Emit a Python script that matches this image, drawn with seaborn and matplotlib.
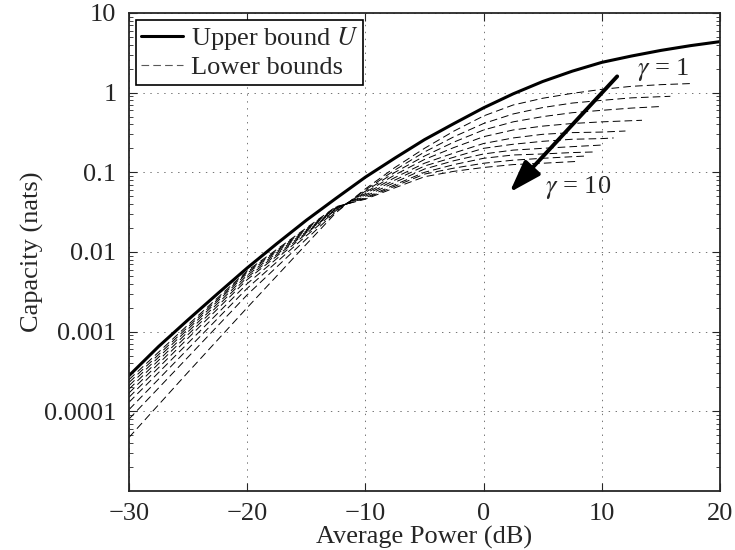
import matplotlib
matplotlib.use("Agg")
import matplotlib.pyplot as plt
import seaborn as sns
import pandas as pd
from matplotlib.ticker import FixedLocator, FixedFormatter, LogLocator, NullFormatter
from matplotlib.lines import Line2D

# upper bound U
power_db = [-30, -27.5, -25, -22.5, -20, -17.5, -15, -12.5, -10, -7.5, -5, -2.5,
            0, 2.5, 5, 7.5, 10, 12.5, 15, 17.5, 20]
upper = [2.8e-4, 6.5e-4, 1.41e-3, 3.0e-3, 6.3e-3, 0.0127, 0.025, 0.047, 0.087, 0.151, 0.257, 0.41,
         0.645, 0.966, 1.38, 1.86, 2.4, 2.88, 3.39, 3.89, 4.37]

# lower bounds for gamma = 1..10 (shared grid, then each curve's own tail)
lb_grid = [-30, -25, -20, -15, -12.5, -10, -7.5, -5, -2.5, 0, 2.5, 5, 7.5]
lb_vals = {
    1: [4.7e-5, 3.1e-4, 2.0e-3, 0.0125, 0.031, 0.062, 0.115, 0.20, 0.33, 0.51, 0.70, 0.85, 0.98],
    2: [8.0e-5, 4.8e-4, 2.9e-3, 0.0145, 0.032, 0.060, 0.107, 0.18, 0.28, 0.41, 0.54, 0.65, 0.74],
    3: [1.05e-4, 6.1e-4, 3.5e-3, 0.016, 0.033, 0.058, 0.100, 0.16, 0.24, 0.34, 0.43, 0.50, 0.56],
    4: [1.3e-4, 7.2e-4, 4.0e-3, 0.017, 0.034, 0.056, 0.093, 0.145, 0.205, 0.28, 0.34, 0.38, 0.41],
    5: [1.5e-4, 8.3e-4, 4.5e-3, 0.0175, 0.0345, 0.054, 0.086, 0.13, 0.175, 0.23, 0.27, 0.30, 0.315],
    6: [1.7e-4, 9.2e-4, 4.8e-3, 0.018, 0.035, 0.052, 0.080, 0.12, 0.155, 0.20, 0.225, 0.245, 0.26],
    7: [1.9e-4, 1.0e-3, 5.1e-3, 0.0185, 0.0355, 0.050, 0.075, 0.11, 0.14, 0.17, 0.19, 0.20, 0.21],
    8: [2.1e-4, 1.08e-3, 5.4e-3, 0.019, 0.036, 0.048, 0.070, 0.10, 0.125, 0.15, 0.165, 0.17, 0.177],
    9: [2.3e-4, 1.15e-3, 5.6e-3, 0.0195, 0.0365, 0.047, 0.067, 0.095, 0.113, 0.13, 0.142, 0.15, 0.157],
    10: [2.5e-4, 1.22e-3, 5.8e-3, 0.020, 0.037, 0.046, 0.064, 0.088, 0.103, 0.115, 0.125, 0.13, 0.136],
}
lb_tail_db = {1: [10, 12.5, 15, 17.5], 2: [10, 12.5, 15.8], 3: [10, 12.5, 15], 4: [10, 13.4],
              5: [10, 12], 6: [10, 11], 7: [10], 8: [9.3], 9: [8.6], 10: [7.9]}
lb_tail = {1: [1.1, 1.2, 1.26, 1.3], 2: [0.8, 0.86, 0.9], 3: [0.6, 0.64, 0.67], 4: [0.43, 0.45],
           5: [0.32, 0.33], 6: [0.265, 0.27], 7: [0.22], 8: [0.18], 9: [0.16], 10: [0.137]}

ytick_vals = [1e-4, 1e-3, 1e-2, 1e-1, 1, 10]
ytick_text = ["0.0001", "0.001", "0.01", "0.1", "1", "10"]

sns.set_style("ticks")
plt.rcParams["font.family"] = ["Liberation Serif", "DejaVu Serif"]
plt.rcParams["mathtext.fontset"] = "stix"
plt.rcParams["lines.scale_dashes"] = False
fs = 19

fig = plt.figure(figsize=(7.35, 5.5), dpi=100)
ax = fig.add_axes([0.1755, 0.1073, 0.8041, 0.8691])

rows = []
for g in lb_vals:
    xs = lb_grid + lb_tail_db[g]
    ys = lb_vals[g] + lb_tail[g]
    for x, y in zip(xs, ys):
        rows.append({"p": x, "c": y, "g": g})
lower = pd.DataFrame(rows)

sns.lineplot(data=lower, x="p", y="c", units="g", estimator=None, sort=False,
             color="black", lw=0.7, dashes=False, linestyle=(0, (5.5, 3)), ax=ax, legend=False)
sns.lineplot(x=power_db, y=upper, color="black", lw=2.2, ax=ax, legend=False)

ax.set_yscale("log")
ax.set_xlim(-30, 20)
ax.set_ylim(1e-5, 10)
ax.set_xticks([-30, -20, -10, 0, 10, 20])
ax.set_xticklabels(["\u221230", "\u221220", "\u221210", "0", "10", "20"])
ax.yaxis.set_major_locator(FixedLocator(ytick_vals))
ax.yaxis.set_major_formatter(FixedFormatter(ytick_text))
ax.yaxis.set_minor_locator(LogLocator(base=10, subs=range(2, 10), numticks=20))
ax.yaxis.set_minor_formatter(NullFormatter())
ax.tick_params(which="both", direction="in", top=True, right=True, labelsize=fs)
ax.tick_params(which="major", length=6, width=0.8, pad=9)
ax.tick_params(which="minor", length=3, width=0.6)
ax.grid(True, which="major", linestyle=(0, (1, 4)), color="0.45", lw=0.7)
for s in ax.spines.values():
    s.set_linewidth(1.3)

ax.set_xlabel("Average Power (dB)", fontsize=fs, labelpad=0)
ax.set_ylabel("Capacity (nats)", fontsize=fs, labelpad=0)

ax.annotate("", xy=(2.2, 0.056), xytext=(11.3, 1.6),
            arrowprops=dict(arrowstyle="-|>,head_length=0.75,head_width=0.25",
                            lw=2.8, color="black", mutation_scale=26, shrinkA=0, shrinkB=0))
ax.text(13.0, 1.95, r"$\gamma$ = 1", fontsize=fs, va="center", ha="left")
ax.text(5.2, 0.065, r"$\gamma$ = 10", fontsize=fs, va="center", ha="left")

handles = [Line2D([], [], color="black", lw=2.2),
           Line2D([], [], color="0.35", lw=0.8, linestyle=(0, (5.5, 3)))]
leg = ax.legend(handles, [r"Upper bound $U$", "Lower bounds"], loc="upper left", fontsize=fs,
                frameon=True, fancybox=False, borderaxespad=0.25, borderpad=0.2,
                labelspacing=0.15, handlelength=1.6, handletextpad=0.3)
leg.get_frame().set_edgecolor("black")
leg.get_frame().set_linewidth(1.2)
leg.get_frame().set_alpha(1)

fig.savefig("out.png", dpi=100)
